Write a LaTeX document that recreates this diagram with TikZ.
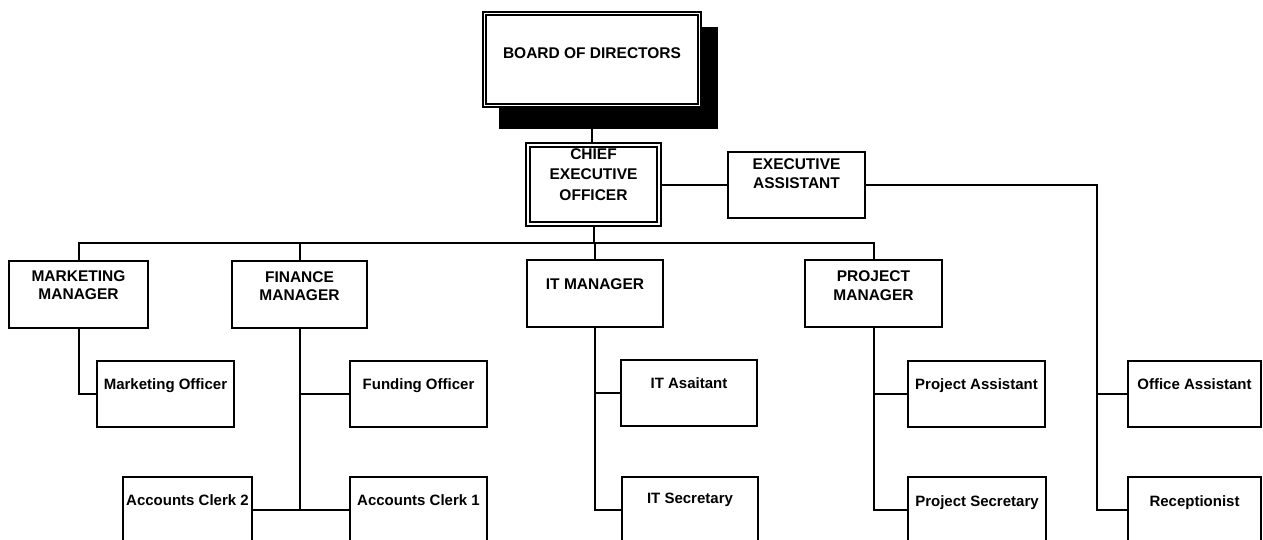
\documentclass[tikz,border=0pt]{standalone}
\usepackage{fontspec}
\setmainfont{Liberation Sans}
\begin{document}
\begin{tikzpicture}[x=1pt,y=-1pt,
  bx/.style={draw=black, fill=white, line width=2pt, inner sep=0pt, outer sep=0pt},
  dbl/.style={draw=black, fill=white, line width=2pt, double=white, double distance=1.5pt, inner sep=0pt, outer sep=2.75pt},
  sz/.style 2 args={minimum width=#1pt, minimum height=#2pt},
  txt/.style={font=\bfseries\fontsize{15}{19}\selectfont, align=center, inner sep=0pt, anchor=north},
  conn/.style={draw=black, line width=2pt},
  lab/.style 2 args={label={[txt, yshift=-#1pt]north:{#2}}},
  clab/.style n args={3}{label={[txt, yshift=-#1pt, font=\bfseries\fontsize{15.5}{#2}\selectfont]north:{#3}}}
]
\useasboundingbox (0,0) rectangle (1263,539);
\clip (0,0) rectangle (1263,539);
\fill[white] (0,0) rectangle (1263,539);

% shadow of board
\fill[black] (499,27) rectangle (718,129);

% boxes
\node[dbl, sz={215}{92}, clab={37}{19}{BOARD OF DIRECTORS}] (board) at (592,59.5) {};
\node[dbl, sz={131}{79}, clab={6}{20.5}{CHIEF\\EXECUTIVE\\OFFICER}] (ceo) at (593.5,184.5) {};
\node[bx, sz={137}{66}, clab={7}{19}{EXECUTIVE\\ASSISTANT}] (ea) at (796.5,184.5) {};

\node[bx, sz={139}{67}, clab={9}{18}{MARKETING\\MANAGER}] (mm) at (78.5,294.5) {};
\node[bx, sz={135}{67}, clab={10}{18}{FINANCE\\MANAGER}] (fm) at (299.5,294.5) {};
\node[bx, sz={136}{67}, clab={18}{19}{IT MANAGER}] (itm) at (595,293.5) {};
\node[bx, sz={137}{67}, clab={10}{19.5}{PROJECT\\MANAGER}] (pm) at (873.5,293.5) {};

\node[bx, sz={137}{66}, lab={17}{Marketing Officer}] (mo) at (165.5,394) {};
\node[bx, sz={137}{66}, lab={17}{Funding Officer}] (fo) at (418.5,394) {};
\node[bx, sz={136}{66}, lab={17}{IT Asaitant}] (ita) at (689,393) {};
\node[bx, sz={137}{66}, lab={17}{Project Assistant}] (pa) at (976.5,394) {};
\node[bx, sz={133}{66}, lab={17}{Office Assistant}] (oa) at (1194.5,394) {};

\node[bx, sz={129}{66}, lab={17}{Accounts Clerk 2}] (ac2) at (187.5,510) {};
\node[bx, sz={137}{66}, lab={17}{Accounts Clerk 1}] (ac1) at (418.5,510) {};
\node[bx, sz={136}{66}, lab={16}{IT Secretary}] (its) at (690,510) {};
\node[bx, sz={138}{66}, lab={18}{Project Secretary}] (ps) at (977,510) {};
\node[bx, sz={133}{66}, lab={18}{Receptionist}] (rec) at (1194.5,510) {};

% connector points
\coordinate (bus) at (593.5,243);
\coordinate (eaR) at (1097,184.5);

% connectors
\draw[conn] (board.south) -- (board.south |- ceo.north);
\draw[conn] (ceo.east) -- (ea.west);
\draw[conn] (ea.east) -- (eaR) |- (rec.west);
\draw[conn] (eaR |- oa.west) -- (oa.west);

\draw[conn] (ceo.south) -- (bus);
\draw[conn] (mm.north) -- (mm.north |- bus) -- (pm.north |- bus) -- (pm.north);
\draw[conn] (fm.north) -- (fm.north |- bus);
\draw[conn] (itm.north) -- (itm.north |- bus);

\draw[conn] (mm.south) |- (mo.west);
\draw[conn] (fm.south) |- (fo.west);
\draw[conn] (fm.south) -- (fm.south |- ac1.west);
\draw[conn] (ac2.east) -- (ac1.west);
\draw[conn] (itm.south) |- (ita.west);
\draw[conn] (itm.south) |- (its.west);
\draw[conn] (pm.south) |- (pa.west);
\draw[conn] (pm.south) |- (ps.west);
\end{tikzpicture}
\end{document}
